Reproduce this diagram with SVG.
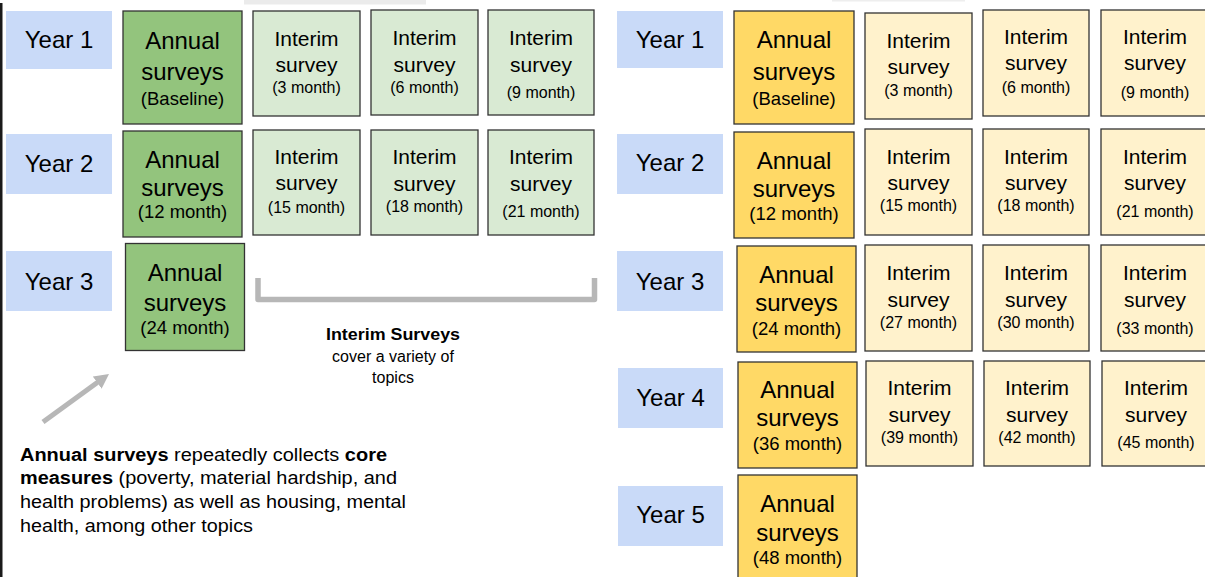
<svg xmlns="http://www.w3.org/2000/svg" width="1205" height="577" viewBox="0 0 1205 577">
  <style>
    text { font-family: "Liberation Sans", Arial, sans-serif; fill: #000; }
    .c { text-anchor: middle; }
    .yr { fill: #c9daf8; }
    .box { stroke: #333; stroke-width: 1.3; }
    .ag { fill: #93c47d; }
    .ig { fill: #d9ead3; }
    .ay { fill: #ffd966; }
    .iy { fill: #fff2cc; }
    .yt { font-size: 24px; }
    .at { font-size: 24px; }
    .as { font-size: 18.5px; }
    .it { font-size: 21px; }
    .is { font-size: 16px; }
    .note { font-size: 16px; }
    .foot { font-size: 17.5px; }
    .b { font-weight: bold; }
    .conn { stroke: #b7b7b7; fill: none; }
  </style>
  <defs>
    <marker id="head" viewBox="0 0 15 16" refX="1" refY="8" markerWidth="15" markerHeight="16" markerUnits="userSpaceOnUse" orient="auto">
      <path d="M0,0.5 L14.6,8 L0,15.5 Z" fill="#b7b7b7"/>
    </marker>
  </defs>

  <rect width="1205" height="577" fill="#fff"/>
  <!-- frame edge and top strips -->
  <rect x="0" y="3" width="2.5" height="574" fill="#1a1a1a"/>
  <rect x="244" y="0" width="182" height="4.5" fill="#ebebeb"/>
  <rect x="832" y="0" width="133" height="1.5" fill="#eeeeee"/>

  <!-- ===== Left schedule: 3 years ===== -->
  <g id="L-year1"><rect class="yr" x="6" y="11" width="106" height="58"/><text class="c yt" x="59" y="48.4">Year 1</text></g>
  <g id="L-year2"><rect class="yr" x="6" y="134" width="106" height="60"/><text class="c yt" x="59" y="172.4">Year 2</text></g>
  <g id="L-year3"><rect class="yr" x="6" y="251" width="106" height="60"/><text class="c yt" x="59" y="290.4">Year 3</text></g>

  <g id="L-annual-baseline"><rect class="box ag" x="123" y="11" width="119" height="113"/>
    <text class="c at" x="182.5" y="49.4">Annual</text><text class="c at" x="182.5" y="80.4">surveys</text><text class="c as" x="182.5" y="104.5">(Baseline)</text></g>
  <g id="L-annual-12"><rect class="box ag" x="123" y="131" width="119" height="106"/>
    <text class="c at" x="182.5" y="168">Annual</text><text class="c at" x="182.5" y="196">surveys</text><text class="c as" x="182.5" y="218">(12 month)</text></g>
  <g id="L-annual-24"><rect class="box ag" x="125.5" y="243.5" width="119" height="107"/>
    <text class="c at" x="185" y="281.4">Annual</text><text class="c at" x="185" y="311.4">surveys</text><text class="c as" x="185" y="333.5">(24 month)</text></g>

  <g id="L-interim-3"><rect class="box ig" x="253" y="11" width="107" height="105"/>
    <text class="c it" x="306.5" y="46.3">Interim</text><text class="c it" x="306.5" y="72.3">survey</text><text class="c is" x="306.5" y="92.6">(3 month)</text></g>
  <g id="L-interim-6"><rect class="box ig" x="371" y="10" width="107" height="105"/>
    <text class="c it" x="424.5" y="45.3">Interim</text><text class="c it" x="424.5" y="72.3">survey</text><text class="c is" x="424.5" y="92.6">(6 month)</text></g>
  <g id="L-interim-9"><rect class="box ig" x="488" y="10" width="106" height="105"/>
    <text class="c it" x="541" y="45.3">Interim</text><text class="c it" x="541" y="72.3">survey</text><text class="c is" x="541" y="97.6">(9 month)</text></g>
  <g id="L-interim-15"><rect class="box ig" x="253" y="130" width="107" height="105"/>
    <text class="c it" x="306.5" y="164.3">Interim</text><text class="c it" x="306.5" y="190.3">survey</text><text class="c is" x="306.5" y="212.6">(15 month)</text></g>
  <g id="L-interim-18"><rect class="box ig" x="371" y="130" width="107" height="105"/>
    <text class="c it" x="424.5" y="164.3">Interim</text><text class="c it" x="424.5" y="191.3">survey</text><text class="c is" x="424.5" y="211.6">(18 month)</text></g>
  <g id="L-interim-21"><rect class="box ig" x="488" y="130" width="106" height="105"/>
    <text class="c it" x="541" y="164.3">Interim</text><text class="c it" x="541" y="191.3">survey</text><text class="c is" x="541" y="216.6">(21 month)</text></g>

  <g id="interim-note">
    <text class="c note b" x="393" y="340" textLength="134" lengthAdjust="spacingAndGlyphs">Interim Surveys</text>
    <text class="c note" x="393" y="361.7">cover a variety of</text>
    <text class="c note" x="393" y="383.3">topics</text>
  </g>

  <g id="annual-note">
    <text class="foot" x="20" y="461" textLength="367" lengthAdjust="spacingAndGlyphs"><tspan class="b">Annual surveys</tspan> repeatedly collects <tspan class="b">core</tspan></text>
    <text class="foot" x="20" y="484" textLength="377" lengthAdjust="spacingAndGlyphs"><tspan class="b">measures</tspan> (poverty, material hardship, and</text>
    <text class="foot" x="20" y="508" textLength="386" lengthAdjust="spacingAndGlyphs">health problems) as well as housing, mental</text>
    <text class="foot" x="20" y="531.5" textLength="233" lengthAdjust="spacingAndGlyphs">health, among other topics</text>
  </g>

  <!-- connectors: bracket over the interim columns and the pointer to the annual box -->
  <g id="connectors">
    <path class="conn" d="M258,278 V299.5 H594.5 V278" stroke-width="5.5" stroke-linejoin="round"/>
    <line class="conn" x1="43" y1="422" x2="98" y2="382" stroke-width="5" marker-end="url(#head)"/>
  </g>

  <!-- ===== Right schedule: 5 years ===== -->
  <g id="R-year1"><rect class="yr" x="617" y="11" width="106" height="57"/><text class="c yt" x="670" y="48.4">Year 1</text></g>
  <g id="R-year2"><rect class="yr" x="617" y="134" width="106" height="60"/><text class="c yt" x="670" y="171.4">Year 2</text></g>
  <g id="R-year3"><rect class="yr" x="617" y="251" width="106" height="60"/><text class="c yt" x="670" y="290.4">Year 3</text></g>
  <g id="R-year4"><rect class="yr" x="618" y="368" width="105" height="60"/><text class="c yt" x="670.5" y="406.4">Year 4</text></g>
  <g id="R-year5"><rect class="yr" x="618" y="486" width="105" height="60"/><text class="c yt" x="670.5" y="523.4">Year 5</text></g>

  <g id="R-annual-baseline"><rect class="box ay" x="734" y="11" width="120" height="113"/>
    <text class="c at" x="794" y="48.4">Annual</text><text class="c at" x="794" y="80.4">surveys</text><text class="c as" x="794" y="104.5">(Baseline)</text></g>
  <g id="R-annual-12"><rect class="box ay" x="734" y="132" width="120" height="106"/>
    <text class="c at" x="794" y="169.4">Annual</text><text class="c at" x="794" y="197.4">surveys</text><text class="c as" x="794" y="219.5">(12 month)</text></g>
  <g id="R-annual-24"><rect class="box ay" x="737" y="246" width="119" height="106"/>
    <text class="c at" x="796.5" y="283.4">Annual</text><text class="c at" x="796.5" y="311.4">surveys</text><text class="c as" x="796.5" y="334.5">(24 month)</text></g>
  <g id="R-annual-36"><rect class="box ay" x="738" y="362" width="119" height="106"/>
    <text class="c at" x="797.5" y="398.4">Annual</text><text class="c at" x="797.5" y="426.4">surveys</text><text class="c as" x="797.5" y="449.5">(36 month)</text></g>
  <g id="R-annual-48"><rect class="box ay" x="738" y="475" width="119" height="110"/>
    <text class="c at" x="797.5" y="512.4">Annual</text><text class="c at" x="797.5" y="541.4">surveys</text><text class="c as" x="797.5" y="563.5">(48 month)</text></g>

  <g id="R-interim-3"><rect class="box iy" x="865" y="13" width="107" height="106"/>
    <text class="c it" x="918.5" y="48.4">Interim</text><text class="c it" x="918.5" y="74.4">survey</text><text class="c is" x="918.5" y="95.6">(3 month)</text></g>
  <g id="R-interim-6"><rect class="box iy" x="983" y="10" width="106" height="106"/>
    <text class="c it" x="1036" y="44.4">Interim</text><text class="c it" x="1036" y="70.4">survey</text><text class="c is" x="1036" y="92.6">(6 month)</text></g>
  <g id="R-interim-9"><rect class="box iy" x="1101" y="10" width="108" height="106"/>
    <text class="c it" x="1155" y="44.4">Interim</text><text class="c it" x="1155" y="70.4">survey</text><text class="c is" x="1155" y="97.6">(9 month)</text></g>

  <g id="R-interim-15"><rect class="box iy" x="865" y="129" width="107" height="106"/>
    <text class="c it" x="918.5" y="164.4">Interim</text><text class="c it" x="918.5" y="190.4">survey</text><text class="c is" x="918.5" y="210.6">(15 month)</text></g>
  <g id="R-interim-18"><rect class="box iy" x="983" y="129" width="106" height="106"/>
    <text class="c it" x="1036" y="164.4">Interim</text><text class="c it" x="1036" y="190.4">survey</text><text class="c is" x="1036" y="210.6">(18 month)</text></g>
  <g id="R-interim-21"><rect class="box iy" x="1101" y="129" width="108" height="106"/>
    <text class="c it" x="1155" y="164.4">Interim</text><text class="c it" x="1155" y="190.4">survey</text><text class="c is" x="1155" y="216.6">(21 month)</text></g>

  <g id="R-interim-27"><rect class="box iy" x="865" y="245" width="107" height="106"/>
    <text class="c it" x="918.5" y="280.4">Interim</text><text class="c it" x="918.5" y="307.4">survey</text><text class="c is" x="918.5" y="327.6">(27 month)</text></g>
  <g id="R-interim-30"><rect class="box iy" x="983" y="245" width="106" height="106"/>
    <text class="c it" x="1036" y="280.4">Interim</text><text class="c it" x="1036" y="307.4">survey</text><text class="c is" x="1036" y="327.6">(30 month)</text></g>
  <g id="R-interim-33"><rect class="box iy" x="1101" y="245" width="108" height="106"/>
    <text class="c it" x="1155" y="280.4">Interim</text><text class="c it" x="1155" y="307.4">survey</text><text class="c is" x="1155" y="333.6">(33 month)</text></g>

  <g id="R-interim-39"><rect class="box iy" x="866" y="361" width="107" height="105"/>
    <text class="c it" x="919.5" y="395.4">Interim</text><text class="c it" x="919.5" y="422.4">survey</text><text class="c is" x="919.5" y="442.6">(39 month)</text></g>
  <g id="R-interim-42"><rect class="box iy" x="984" y="361" width="106" height="105"/>
    <text class="c it" x="1037" y="395.4">Interim</text><text class="c it" x="1037" y="422.4">survey</text><text class="c is" x="1037" y="442.6">(42 month)</text></g>
  <g id="R-interim-45"><rect class="box iy" x="1102" y="361" width="108" height="105"/>
    <text class="c it" x="1156" y="395.4">Interim</text><text class="c it" x="1156" y="422.4">survey</text><text class="c is" x="1156" y="447.6">(45 month)</text></g>
</svg>
